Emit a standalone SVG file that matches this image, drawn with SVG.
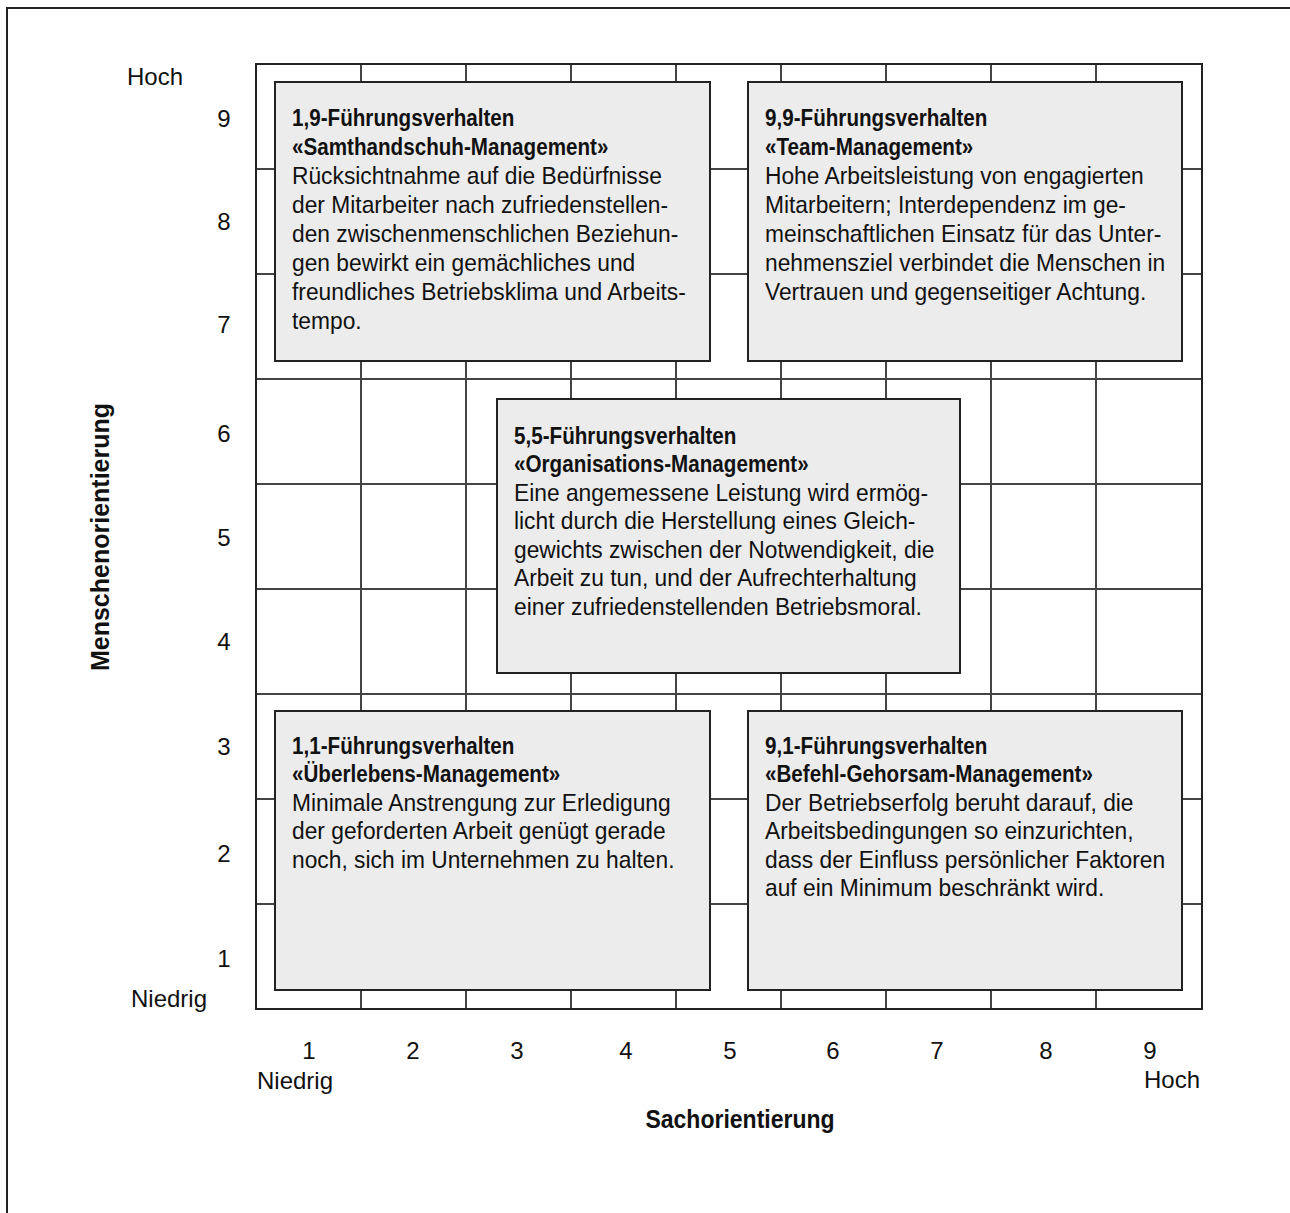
<svg xmlns="http://www.w3.org/2000/svg" width="1290" height="1213" viewBox="0 0 1290 1213">
  <style>
    text { font-family: "Liberation Sans", Arial, sans-serif; fill: #111; }
    .body { font-size: 24px; }
    .title { font-size: 24px; font-weight: bold; }
    .lbl { font-size: 24px; }
    .axis { font-size: 25px; font-weight: bold; }
    .grid line { stroke: #444; stroke-width: 2; }
    .box { fill: #ececec; stroke: #222; stroke-width: 2; }
  </style>

  <rect width="1290" height="1213" fill="#fff"/>
  <!-- page frame -->
  <rect x="7" y="8" width="1300" height="1300" fill="none" stroke="#222" stroke-width="2"/>

  <!-- 9 x 9 grid -->
  <g id="grid" class="grid">
    <line x1="361" y1="64" x2="361" y2="1009"/>
    <line x1="466" y1="64" x2="466" y2="1009"/>
    <line x1="571" y1="64" x2="571" y2="1009"/>
    <line x1="676" y1="64" x2="676" y2="1009"/>
    <line x1="781" y1="64" x2="781" y2="1009"/>
    <line x1="886" y1="64" x2="886" y2="1009"/>
    <line x1="991" y1="64" x2="991" y2="1009"/>
    <line x1="1096" y1="64" x2="1096" y2="1009"/>
    <line x1="256" y1="169" x2="1202" y2="169"/>
    <line x1="256" y1="274" x2="1202" y2="274"/>
    <line x1="256" y1="379" x2="1202" y2="379"/>
    <line x1="256" y1="484" x2="1202" y2="484"/>
    <line x1="256" y1="589" x2="1202" y2="589"/>
    <line x1="256" y1="694" x2="1202" y2="694"/>
    <line x1="256" y1="799" x2="1202" y2="799"/>
    <line x1="256" y1="904" x2="1202" y2="904"/>
    <rect x="256" y="64" width="946" height="945" fill="none" stroke="#222" stroke-width="2"/>
  </g>

  <!-- 1,9 -->
  <g id="box-1-9">
    <rect class="box" x="275" y="82" width="435" height="279"/>
    <g transform="translate(292,0) scale(0.86,1)">
      <text class="title" x="0" y="126">1,9-Führungsverhalten</text>
      <text class="title" x="0" y="155">«Samthandschuh-Management»</text>
    </g>
    <g transform="translate(292,0) scale(0.95,1)">
      <text class="body" x="0" y="184">Rücksichtnahme auf die Bedürfnisse</text>
      <text class="body" x="0" y="213">der Mitarbeiter nach zufriedenstellen-</text>
      <text class="body" x="0" y="242">den zwischenmenschlichen Beziehun-</text>
      <text class="body" x="0" y="271">gen bewirkt ein gemächliches und</text>
      <text class="body" x="0" y="300">freundliches Betriebsklima und Arbeits-</text>
      <text class="body" x="0" y="329">tempo.</text>
    </g>
  </g>

  <!-- 9,9 -->
  <g id="box-9-9">
    <rect class="box" x="748" y="82" width="434" height="279"/>
    <g transform="translate(765,0) scale(0.86,1)">
      <text class="title" x="0" y="126">9,9-Führungsverhalten</text>
      <text class="title" x="0" y="155">«Team-Management»</text>
    </g>
    <g transform="translate(765,0) scale(0.95,1)">
      <text class="body" x="0" y="184">Hohe Arbeitsleistung von engagierten</text>
      <text class="body" x="0" y="213">Mitarbeitern; Interdependenz im ge-</text>
      <text class="body" x="0" y="242">meinschaftlichen Einsatz für das Unter-</text>
      <text class="body" x="0" y="271">nehmensziel verbindet die Menschen in</text>
      <text class="body" x="0" y="300">Vertrauen und gegenseitiger Achtung.</text>
    </g>
  </g>

  <!-- 5,5 -->
  <g id="box-5-5">
    <rect class="box" x="497" y="399" width="463" height="274"/>
    <g transform="translate(514,0) scale(0.86,1)">
      <text class="title" x="0" y="444">5,5-Führungsverhalten</text>
      <text class="title" x="0" y="472">«Organisations-Management»</text>
    </g>
    <g transform="translate(514,0) scale(0.95,1)">
      <text class="body" x="0" y="501">Eine angemessene Leistung wird ermög-</text>
      <text class="body" x="0" y="529.5">licht durch die Herstellung eines Gleich-</text>
      <text class="body" x="0" y="558">gewichts zwischen der Notwendigkeit, die</text>
      <text class="body" x="0" y="586.5">Arbeit zu tun, und der Aufrechterhaltung</text>
      <text class="body" x="0" y="615">einer zufriedenstellenden Betriebsmoral.</text>
    </g>
  </g>

  <!-- 1,1 -->
  <g id="box-1-1">
    <rect class="box" x="275" y="711" width="435" height="279"/>
    <g transform="translate(292,0) scale(0.86,1)">
      <text class="title" x="0" y="754">1,1-Führungsverhalten</text>
      <text class="title" x="0" y="782">«Überlebens-Management»</text>
    </g>
    <g transform="translate(292,0) scale(0.95,1)">
      <text class="body" x="0" y="811">Minimale Anstrengung zur Erledigung</text>
      <text class="body" x="0" y="839.5">der geforderten Arbeit genügt gerade</text>
      <text class="body" x="0" y="868">noch, sich im Unternehmen zu halten.</text>
    </g>
  </g>

  <!-- 9,1 -->
  <g id="box-9-1">
    <rect class="box" x="748" y="711" width="434" height="279"/>
    <g transform="translate(765,0) scale(0.86,1)">
      <text class="title" x="0" y="754">9,1-Führungsverhalten</text>
      <text class="title" x="0" y="782">«Befehl-Gehorsam-Management»</text>
    </g>
    <g transform="translate(765,0) scale(0.95,1)">
      <text class="body" x="0" y="811">Der Betriebserfolg beruht darauf, die</text>
      <text class="body" x="0" y="839.5">Arbeitsbedingungen so einzurichten,</text>
      <text class="body" x="0" y="868">dass der Einfluss persönlicher Faktoren</text>
      <text class="body" x="0" y="896.5">auf ein Minimum beschränkt wird.</text>
    </g>
  </g>

  <!-- vertical axis -->
  <g id="y-axis">
    <text class="lbl" x="155" y="85" text-anchor="middle">Hoch</text>
    <text class="lbl" x="169" y="1007" text-anchor="middle">Niedrig</text>
    <text class="lbl" x="224" y="127" text-anchor="middle">9</text>
    <text class="lbl" x="224" y="230" text-anchor="middle">8</text>
    <text class="lbl" x="224" y="333" text-anchor="middle">7</text>
    <text class="lbl" x="224" y="442" text-anchor="middle">6</text>
    <text class="lbl" x="224" y="546" text-anchor="middle">5</text>
    <text class="lbl" x="224" y="650" text-anchor="middle">4</text>
    <text class="lbl" x="224" y="755" text-anchor="middle">3</text>
    <text class="lbl" x="224" y="862" text-anchor="middle">2</text>
    <text class="lbl" x="224" y="967" text-anchor="middle">1</text>
    <text class="axis" transform="translate(109,537) rotate(-90)" text-anchor="middle">Menschenorientierung</text>
  </g>

  <!-- horizontal axis -->
  <g id="x-axis">
    <text class="lbl" x="309" y="1059" text-anchor="middle">1</text>
    <text class="lbl" x="413" y="1059" text-anchor="middle">2</text>
    <text class="lbl" x="517" y="1059" text-anchor="middle">3</text>
    <text class="lbl" x="626" y="1059" text-anchor="middle">4</text>
    <text class="lbl" x="730" y="1059" text-anchor="middle">5</text>
    <text class="lbl" x="833" y="1059" text-anchor="middle">6</text>
    <text class="lbl" x="937" y="1059" text-anchor="middle">7</text>
    <text class="lbl" x="1046" y="1059" text-anchor="middle">8</text>
    <text class="lbl" x="1150" y="1059" text-anchor="middle">9</text>
    <text class="lbl" x="257" y="1089">Niedrig</text>
    <text class="lbl" x="1200" y="1088" text-anchor="end">Hoch</text>
    <text class="axis" transform="translate(740,1128) scale(0.92,1)" text-anchor="middle">Sachorientierung</text>
  </g>
</svg>
